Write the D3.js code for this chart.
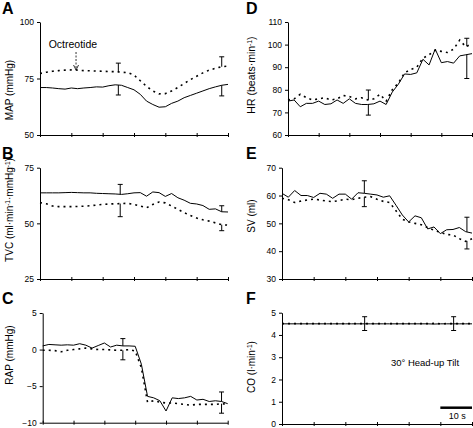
<!DOCTYPE html>
<html><head><meta charset="utf-8">
<script src="https://cdn.jsdelivr.net/npm/d3@7"></script>
<style>
body{margin:0;background:#fff}
svg{display:block}
text{font-family:"Liberation Sans",Arial,sans-serif;fill:#000}
</style>
</head><body>
<svg id="c" width="473" height="428"></svg>
<script>
// ---- data ----
const timeS = [0,2,4,6,8,10,12,14,16,18,20,22,24,26,28,30,32,34,36,38,40,42,44,46,48,50,52,54,56,58,60];
const xTickSec = [0,10,20,30,40,50,60];

const mapSolid  = [71,71,70.8,70.5,70.3,70.8,70.5,70.8,71,71.3,71.2,71.8,72.2,72,71,70,68,65,63.5,62.3,62.5,64,65,66.5,67.5,68.5,69.5,70.5,71.3,72,72.4];
const mapDotted = [77.2,77.8,78.2,78.5,78.7,78.8,78.7,78.5,78.4,78.3,78.2,78.1,78,77.8,77.6,76.5,74,71.5,69.5,68.2,68.3,69.5,71,72.8,74.5,76,77.5,78.7,79.5,80.2,80.5];
const mapErrT = [25,58], mapSolidErr = [67.7,67.3], mapDottedErr = [81.8,84.6];
const mapTicks = [50,75,100];

const tvcSolid  = [63.7,63.7,63.7,63.7,63.8,63.9,63.8,63.7,63.7,63.5,63.4,63.3,63.2,63,63.3,63.7,63.8,62.2,64.1,63.8,62.1,63.4,61.5,60.4,59,58.7,58,56.3,56.5,55.2,55.1];
const tvcDotted = [59.3,58.8,57.8,57.5,57.5,57.5,57.6,57.7,57.9,58.2,58.5,58.7,58.8,58.9,59,58.5,57.8,57,58.5,59.6,59.2,57.8,56.3,54.8,53.5,52.4,51.6,51,50.2,49.4,49.2];
const tvcErrT = [25.6,58], tvcSolidErr = [67.5,57.9], tvcDottedErr = [53,46.7];
const tvcTicks = [25,50,75];

const rapSolid  = [0.5,0.7,0.65,0.6,0.65,0.6,0.8,0.6,0.2,0.55,0.9,0.35,0.6,0.5,0.5,0.45,-2,-6.4,-6.6,-7,-8.4,-6.6,-6.7,-6.6,-6.4,-6.9,-6.8,-7.1,-7,-7.1,-7.4];
const rapDotted = [-0.1,-0.1,-0.15,-0.3,-0.1,0,0.1,0.2,0.1,0,0,-0.05,-0.1,-0.1,0,-0.2,-2.5,-7.2,-7,-7.2,-7.3,-7.3,-7.4,-7.5,-7.6,-7.5,-7.5,-7.5,-7.5,-7.4,-7.5];
const rapErrT = [26,58], rapSolidErr = [1.5,-5.8], rapDottedErr = [-1.4,-8.7];
const rapTicks = [-10,-5,0,5];

const hrSolid  = [75,75.5,72.5,74,74,75,73.5,73.8,75.5,74,76,74,73.5,73.5,73.8,75,73.5,79,82.5,87,86.8,87.5,93.5,91,98,92,92.5,91.8,95,95.5,96];
const hrDotted = [75.5,76,78,76.5,75.5,76,76.5,75.5,76,77.5,77,76,76.5,75.5,76,78,75,80,83,87.5,89,90,94,95.5,97.5,97,96.5,98,102,99,100.5];
const hrErrT = [26.2,58.3], hrSolidErr = [68.8,85], hrDottedErr = [79.9,102.8];
const hrTicks = [60,70,80,90,100,110];

const svSolid  = [60.8,59.4,61.8,60,60,59.3,60.8,60.5,59,60.5,60.5,58.7,61,60.8,60.5,60.2,59.4,59.9,56.5,53,50.5,52.7,52,48,48.7,46.3,47.7,47.8,48.5,47,46.5];
const svDotted = [59,58.5,57.5,58,58.4,58.7,58.4,58,57.8,58.2,58.7,58.5,59,59.4,59.6,58.7,57.9,57.5,54.5,51.5,50.5,50,49.5,48.5,47.5,46.8,46,45.8,44.5,43.5,44.5];
const svErrT = [26,58.4], svSolidErr = [65.3,52.2], svDottedErr = [56,40.8];
const svTicks = [30,40,50,60,70];

const coSolid  = [4.5,4.5,4.5,4.5,4.5,4.5,4.5,4.5,4.5,4.5,4.5,4.5,4.5,4.5,4.5,4.5,4.5,4.5,4.5,4.5,4.5,4.5,4.5,4.5,4.49,4.5,4.5,4.5,4.5,4.5,4.5];
const coDotted = [4.51,4.51,4.51,4.51,4.51,4.51,4.51,4.51,4.51,4.51,4.51,4.51,4.51,4.51,4.51,4.51,4.51,4.51,4.51,4.51,4.51,4.51,4.51,4.51,4.52,4.5,4.51,4.51,4.51,4.51,4.51];
const coErrT = [26.1,54.2], coSolidErr = [4.82,4.82], coDottedErr = [4.2,4.2];
const coTicks = [0,1,2,3,4,5];

// ---- layout ----
const svg = d3.select("#c");
const panels = [
  {letter:"A", lx:2, ly:14, x0:40, x1:228, yT:22, yB:135, dom:[50,100], ticks:mapTicks, solid:mapSolid, dotted:mapDotted, errT:mapErrT, sErr:mapSolidErr, dErr:mapDottedErr,
   title:[["MAP (mmHg)"]], tx:13, ty:90, fs:10},
  {letter:"B", lx:2, ly:159, x0:40, x1:228, yT:167.7, yB:279, dom:[25,75], ticks:tvcTicks, solid:tvcSolid, dotted:tvcDotted, errT:tvcErrT, sErr:tvcSolidErr, dErr:tvcDottedErr,
   title:[["TVC (ml·min"],["-1","s"],["·mmHg"],["-1","s"],[")"]], tx:13, ty:210, fs:10},
  {letter:"C", lx:2, ly:304, x0:42.7, x1:227.7, yT:313, yB:422.7, dom:[-10,5], ticks:rapTicks, solid:rapSolid, dotted:rapDotted, errT:rapErrT, sErr:rapSolidErr, dErr:rapDottedErr,
   title:[["RAP (mmHg)"]], tx:13, ty:355, fs:10},
  {letter:"D", lx:246, ly:14, x0:288, x1:472, yT:22, yB:135, dom:[60,110], ticks:hrTicks, solid:hrSolid, dotted:hrDotted, errT:hrErrT, sErr:hrSolidErr, dErr:hrDottedErr,
   title:[["HR (beats·min"],["-1","s"],[")"]], tx:255, ty:75, fs:10.5},
  {letter:"E", lx:246, ly:159, x0:282, x1:472, yT:167.7, yB:279, dom:[30,70], ticks:svTicks, solid:svSolid, dotted:svDotted, errT:svErrT, sErr:svSolidErr, dErr:svDottedErr,
   title:[["SV (ml)"]], tx:255, ty:216, fs:10},
  {letter:"F", lx:246, ly:304, x0:282, x1:472, yT:312.7, yB:424, dom:[0,5], ticks:coTicks, solid:coSolid, dotted:coDotted, errT:coErrT, sErr:coSolidErr, dErr:coDottedErr,
   title:[["CO (l·min"],["-1","s"],[")"]], tx:255, ty:367, fs:10}
];

function valueAt(series, t){
  const i = d3.bisectLeft(timeS, t);
  if (i <= 0) return series[0];
  if (i >= timeS.length) return series[series.length-1];
  const t0 = timeS[i-1], t1 = timeS[i];
  return series[i-1] + (series[i]-series[i-1])*(t-t0)/(t1-t0);
}

panels.forEach(p => {
  const x = d3.scaleLinear().domain([0,60]).range([p.x0,p.x1]);
  const y = d3.scaleLinear().domain(p.dom).range([p.yB,p.yT]);
  p.x = x; p.y = y;
  const g = svg.append("g");

  // y axis
  const ya = g.append("g").attr("transform",`translate(${p.x0},0)`)
    .call(d3.axisLeft(y).tickValues(p.ticks).tickFormat(d3.format("d")).tickSize(3).tickSizeOuter(0).tickPadding(3));
  ya.select(".domain").attr("stroke","#000").attr("stroke-width",1);
  ya.selectAll(".tick line").attr("stroke","#000");
  ya.selectAll("text").attr("font-size","8.5px").attr("font-family",'"Liberation Sans",Arial,sans-serif').attr("fill","#000");

  // x axis
  const xa = g.append("g").attr("transform",`translate(0,${p.yB})`)
    .call(d3.axisBottom(x).tickValues(xTickSec).tickFormat("").tickSizeInner(2).tickSizeOuter(0));
  xa.select(".domain").attr("stroke","#000");
  xa.selectAll(".tick line").attr("y1",-2).attr("y2",2).attr("stroke","#000");

  const line = d3.line().x((d,i)=>x(timeS[i])).y(d=>y(d));
  g.append("path").datum(p.solid).attr("d",line).attr("fill","none").attr("stroke","#000").attr("stroke-width",1);
  g.append("path").datum(p.dotted).attr("d",line).attr("fill","none").attr("stroke","#000")
    .attr("stroke-width",1.6).attr("stroke-dasharray","2,4");

  // error bars
  const bars = [];
  p.errT.forEach((t,i)=>{
    bars.push({t, from:valueAt(p.solid,t), to:p.sErr[i]});
    bars.push({t, from:valueAt(p.dotted,t), to:p.dErr[i]});
  });
  const eb = g.append("g");
  bars.forEach(b=>{
    eb.append("line").attr("x1",x(b.t)).attr("x2",x(b.t)).attr("y1",y(b.from)).attr("y2",y(b.to))
      .attr("stroke","#000").attr("stroke-width",1);
    eb.append("line").attr("x1",x(b.t)-2.5).attr("x2",x(b.t)+2.5).attr("y1",y(b.to)).attr("y2",y(b.to))
      .attr("stroke","#000").attr("stroke-width",1);
  });

  // panel letter
  svg.append("text").attr("x",p.lx).attr("y",p.ly).attr("font-size","16px").attr("font-weight","bold").attr("fill","#000").text(p.letter);

  // y title
  const tt = svg.append("text").attr("transform",`translate(${p.tx},${p.ty}) rotate(-90)`)
    .attr("text-anchor","middle").attr("font-size",p.fs+"px").attr("fill","#000");
  p.title.forEach(part=>{
    const ts = tt.append("tspan").text(part[0]);
    if (part[1]==="s") ts.attr("baseline-shift","super").attr("font-size",(p.fs*0.65)+"px");
  });
});

// annotation in A
const pA = panels[0];
svg.append("text").attr("x",pA.x(10.5)).attr("y",48).attr("text-anchor","middle").attr("font-size","10.5px").attr("fill","#000").text("Octreotide");
const ax = pA.x(11.5);
svg.append("line").attr("x1",ax).attr("x2",ax).attr("y1",52).attr("y2",69.5)
  .attr("stroke","#000").attr("stroke-width",0.8).attr("stroke-dasharray","2,1.5");
svg.append("path").attr("d",`M${ax-2.5},${65}L${ax},${70}L${ax+2.5},${65}`).attr("fill","none").attr("stroke","#000").attr("stroke-width",0.8);

// annotation in F
const pF = panels[5];
svg.append("text").attr("x",425).attr("y",366).attr("text-anchor","middle").attr("font-size","9.5px").attr("fill","#000").text("30° Head-up Tilt");
svg.append("line").attr("x1",pF.x(50)).attr("x2",pF.x(60)).attr("y1",407.7).attr("y2",407.7).attr("stroke","#000").attr("stroke-width",2.5);
svg.append("text").attr("x",(pF.x(50)+pF.x(60))/2+1).attr("y",418.5).attr("text-anchor","middle").attr("font-size","9px").attr("fill","#000").text("10 s");
</script>
</body></html>
